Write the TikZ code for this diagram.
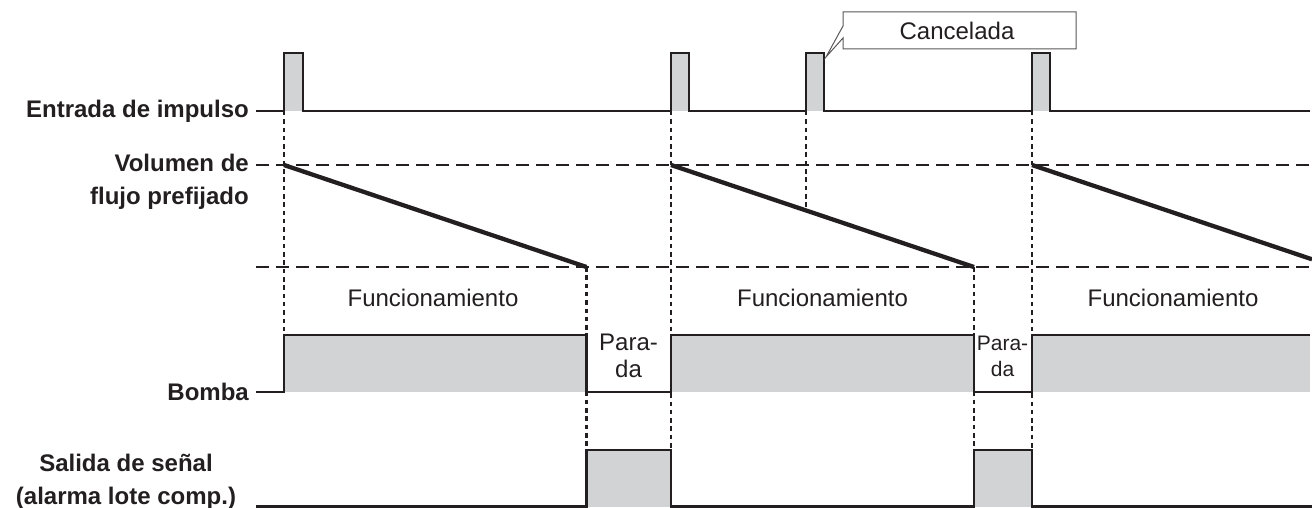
\documentclass[tikz,border=0pt]{standalone}
\usepackage{fontspec}
\setmainfont{Liberation Sans}
\definecolor{ink}{HTML}{231F20}
\definecolor{fillg}{HTML}{D1D3D4}
\tikzset{
  sig/.style={draw=ink,line width=2.9pt,line join=miter},
  guide/.style={draw=ink,line width=2.4pt,dash pattern=on 4.5pt off 3.8pt},
  level/.style={draw=ink,line width=2.9pt,dash pattern=on 13pt off 7pt},
  ramp/.style={draw=ink,line width=4.3pt},
  lbl/.style={font=\fontsize{24}{33}\selectfont\bfseries,text=ink,inner sep=0pt,align=right},
  state/.style={font=\fontsize{24}{27}\selectfont,text=ink,inner sep=0pt,align=center},
}
\begin{document}
\begin{tikzpicture}[x=1pt,y=-1pt]
\useasboundingbox (0,0) rectangle (1312,508);
% gray fills
\fill[fillg] (284,53) rectangle (303,111);
\fill[fillg] (671,53) rectangle (689,111);
\fill[fillg] (806,53) rectangle (824,111);
\fill[fillg] (1032,53) rectangle (1050,111);
\fill[fillg] (284,335) rectangle (586.5,392);
\fill[fillg] (671,335) rectangle (974,392);
\fill[fillg] (1032,335) rectangle (1310,392);
\fill[fillg] (586.5,450) rectangle (671,506.5);
\fill[fillg] (974,450) rectangle (1032,506.5);
% guide lines (dotted verticals)
\coordinate (g1t) at (284,111);  \coordinate (g1b) at (284,335);
\coordinate (g2t) at (586.5,267); \coordinate (g2b) at (586.5,450);
\coordinate (g3t) at (671,111);  \coordinate (g3b) at (671,450);
\coordinate (g4t) at (974,267);  \coordinate (g4b) at (974,450);
\coordinate (g5t) at (1032,111); \coordinate (g5b) at (1032,450);
\coordinate (g6t) at (806,111);  \coordinate (g6b) at (806,210.4);
\draw[guide] (g1t) -- (g1b);
\draw[guide] (g2t) -- (g2b);
\draw[guide] (g3t) -- (g3b);
\draw[guide] (g4t) -- (g4b);
\draw[guide] (g5t) -- (g5b);
\draw[guide] (g6t) -- (g6b);
% level lines
\draw[level] (256,165) -- (1312,165);
\draw[level] (256,267) -- (1312,267);
% ramps
\draw[ramp] (284,165) -- (586.5,267);
\draw[ramp] (671,165) -- (974,267);
\draw[ramp] (1032,165) -- (1312,259.3);
% impulse signal
\draw[sig] (256,111) -- (284,111) -- (284,53) -- (303,53) -- (303,111)
  -- (671,111) -- (671,53) -- (689,53) -- (689,111)
  -- (806,111) -- (806,53) -- (824,53) -- (824,111)
  -- (1032,111) -- (1032,53) -- (1050,53) -- (1050,111) -- (1310,111);
% pump signal
\draw[sig] (256,392) -- (284,392) -- (284,335) -- (586.5,335) -- (586.5,392)
  -- (671,392) -- (671,335) -- (974,335) -- (974,392) -- (1032,392)
  -- (1032,335) -- (1310,335);
% output signal
\draw[sig] (256,506.5) -- (586.5,506.5) -- (586.5,450) -- (671,450) -- (671,506.5)
  -- (974,506.5) -- (974,450) -- (1032,450) -- (1032,506.5) -- (1312,506.5);
% labels
\node[lbl,anchor=east] (entrada) at (249,111) {Entrada de impulso};
\node[lbl,anchor=east] (volumen) at (249,182) {Volumen de\\flujo prefijado};
\node[lbl,anchor=east] (bomba) at (249,392) {Bomba};
\node[lbl,align=center] (salida) at (126,481.5) {Salida de señal\\(alarma lote comp.)};
\node[state] (f1) at (433,298) {Funcionamiento};
\node[state] (f2) at (822.5,298) {Funcionamiento};
\node[state] (f3) at (1173,298) {Funcionamiento};
\node[state] (p1) at (628.5,356) {Para-\\da};
\node[state,font=\fontsize{21}{26}\selectfont] (p2) at (1002.5,356) {Para-\\da};
% callout
\draw[draw=ink!75,line width=1pt,fill=white] (1076,12) -- (843,12) -- (843,26) -- (826,57) -- (843,38) -- (843,49) -- (1076,49) -- cycle;
\node[state] (cancel) at (957,31) {Cancelada};
\end{tikzpicture}
\end{document}
